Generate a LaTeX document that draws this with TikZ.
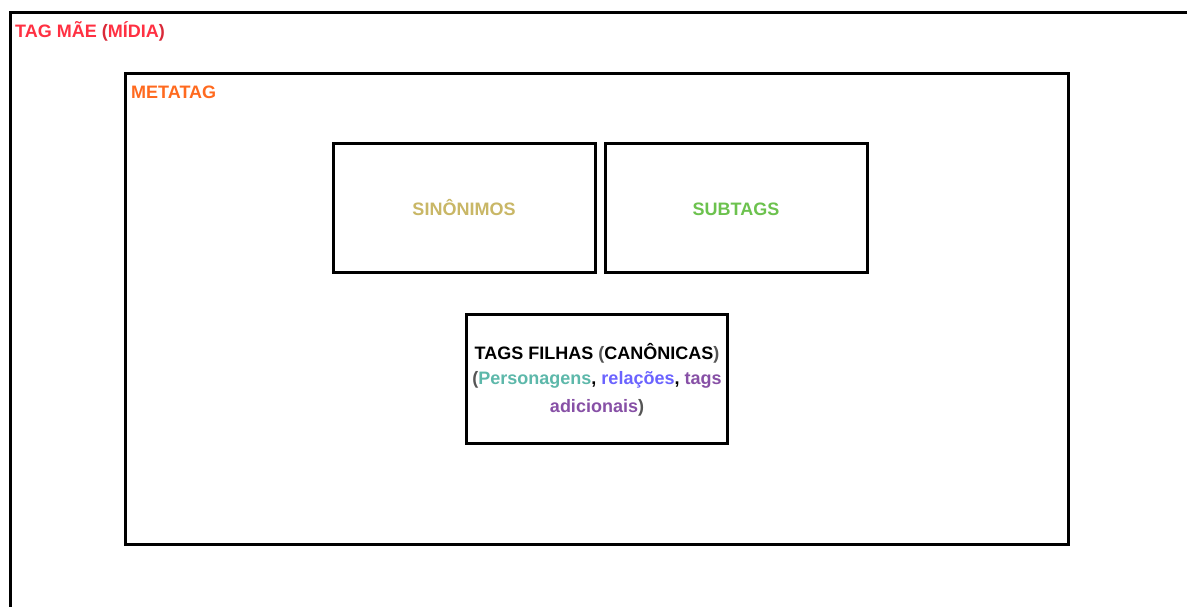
\documentclass[tikz,border=0pt]{standalone}
\usepackage{fontspec}
\setmainfont{Liberation Sans}
\definecolor{cred}{HTML}{FF3042}
\definecolor{corange}{HTML}{FF6A1F}
\definecolor{ckhaki}{HTML}{C9B766}
\definecolor{cgreen}{HTML}{6CC24E}
\definecolor{cteal}{HTML}{5DB8AA}
\definecolor{cblue}{HTML}{6B63FF}
\definecolor{cpurple}{HTML}{8750A6}
\definecolor{cparen}{HTML}{555555}
\tikzset{
  frame/.style={draw=black, line width=3pt},
  lbl/.style={font=\bfseries\fontsize{18}{18}\selectfont, inner sep=0pt},
}
\begin{document}
\begin{tikzpicture}[x=1pt,y=-1pt]
\useasboundingbox (0,0) rectangle (1187,606);
\fill[white] (0,0) rectangle (1187,606);
% outer (cut off)
\draw[frame] (10,620) -- (10,12) -- (1200,12);
\node[lbl, text=cred, anchor=west] (tagmae) at (15,31) {TAG MÃE {\color{cred!85!black}(}MÍDIA{\color{cred!85!black})}};
% metatag
\draw[frame] (125,73) rectangle (1068,544);
\node[lbl, text=corange, anchor=west] (metatag) at (131,92) {METATAG};
% boxes
\node[frame, minimum width=262pt, minimum height=129pt, inner sep=0pt] (sin) at (464,207.5) {};
\node[lbl, text=ckhaki, anchor=base] (sinlbl) at (464,215.5) {SINÔNIMOS};
\node[frame, minimum width=262pt, minimum height=129pt, inner sep=0pt] (sub) at (736,207.5) {};
\node[lbl, text=cgreen, anchor=base] (sublbl) at (736,215.5) {SUBTAGS};
\node[frame, minimum width=261pt, minimum height=129pt, inner sep=0pt] (fil) at (596.5,378.5) {};
\node[lbl, anchor=center] (fil1) at (597,353) {TAGS FILHAS {\color{cparen}(}CANÔNICAS{\color{cparen})}};
\node[lbl, anchor=center] (fil2) at (597,380) {{\color{cparen}(}{\color{cteal}Personagens}, {\color{cblue}relações}, {\color{cpurple}tags}};
\node[lbl, anchor=center] (fil3) at (597,408) {{\color{cpurple}adicionais}{\color{cparen})}};
\end{tikzpicture}
\end{document}
